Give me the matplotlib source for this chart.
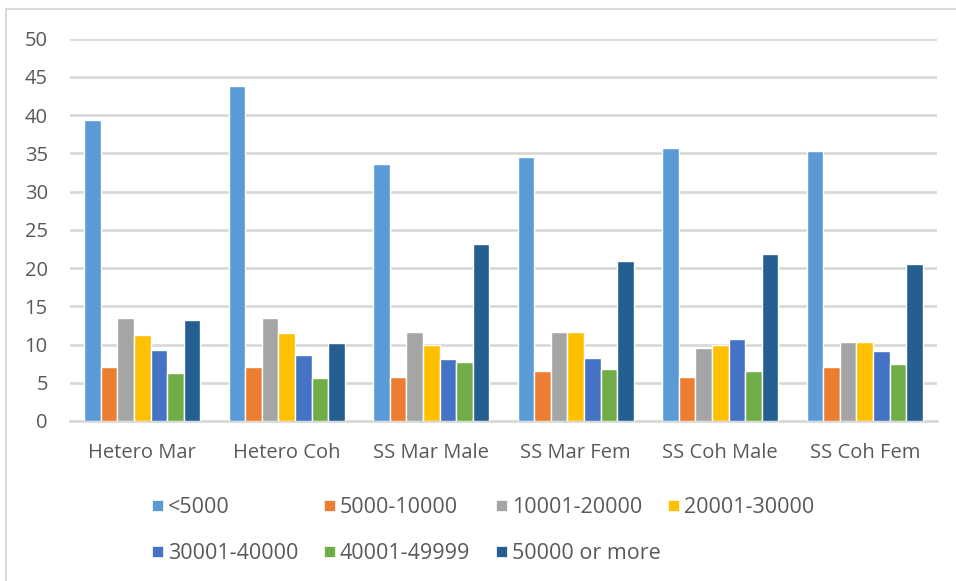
import numpy as np
import matplotlib
import matplotlib.pyplot as plt
from matplotlib.lines import Line2D
from matplotlib.patches import Rectangle

matplotlib.use("Agg")

plt.rcParams["font.family"] = ["Open Sans", "DejaVu Sans"]

groups = ["Hetero Mar", "Hetero Coh", "SS Mar Male", "SS Mar Fem", "SS Coh Male", "SS Coh Fem"]
income_bands = ["<5000", "5000-10000", "10001-20000", "20001-30000",
                "30001-40000", "40001-49999", "50000 or more"]

# one list per income band, values in group order
under_5000 = [39.4, 43.8, 33.6, 34.5, 35.7, 35.3]
from_5000 = [7.1, 7.0, 5.8, 6.5, 5.8, 7.0]
from_10001 = [13.5, 13.5, 11.6, 11.6, 9.5, 10.3]
from_20001 = [11.3, 11.5, 10.0, 11.6, 10.0, 10.3]
from_30001 = [9.3, 8.6, 8.15, 8.3, 10.7, 9.15]
from_40001 = [6.3, 5.6, 7.7, 6.8, 6.6, 7.5]
over_50000 = [13.2, 10.2, 23.2, 20.9, 21.9, 20.5]

series = [under_5000, from_5000, from_10001, from_20001, from_30001, from_40001, over_50000]
colors = ["#5B9BD5", "#ED7D31", "#A5A5A5", "#FFC000", "#4472C4", "#70AD47", "#255E91"]

W, H = 956, 581
fig = plt.figure(figsize=(W / 100, H / 100), dpi=100)
ax = fig.add_axes([70 / W, 1 - 421 / H, 867 / W, (421 - 38.7) / H])

x = np.arange(len(groups))
slot = 0.8 / len(series)
for i, (vals, col, lab) in enumerate(zip(series, colors, income_bands)):
    offs = (i - (len(series) - 1) / 2) * slot
    ax.bar(x + offs, vals, width=slot, color=col, label=lab,
           edgecolor="white", linewidth=1.0, zorder=3)

ax.set_xlim(-0.5, len(groups) - 0.5)
ax.set_ylim(0, 50)
ax.set_yticks(range(0, 51, 5))
ax.set_xticks(x)
ax.set_xticklabels(groups)
ax.yaxis.grid(True, color="#D9D9D9", linewidth=2, zorder=0)
ax.tick_params(axis="both", length=0, labelsize=14.5, labelcolor="#595959")
ax.tick_params(axis="y", pad=16)
ax.tick_params(axis="x", pad=16)
for s in ["top", "right", "left"]:
    ax.spines[s].set_visible(False)
ax.spines["bottom"].set_color("#D9D9D9")
ax.spines["bottom"].set_linewidth(2)

# legend laid out like Excel: 4 fixed-width columns, filled row by row
for i, (col, lab) in enumerate(zip(colors, income_bands)):
    px = 152 + 172 * (i % 4)
    py = 505 + 46 * (i // 4)
    fig.add_artist(Rectangle((px / W, 1 - (py + 5.5) / H), 11 / W, 11 / H,
                             transform=fig.transFigure, facecolor=col,
                             edgecolor="white", linewidth=0.5))
    fig.text((px + 16) / W, 1 - py / H, lab, fontsize=15.5, color="#595959",
             ha="left", va="center_baseline")

# chart frame (only top and left edges are visible in the crop)
fig.add_artist(Line2D([6 / W, 1], [1 - 9 / H, 1 - 9 / H],
                      transform=fig.transFigure, color="#D9D9D9", linewidth=1.5))
fig.add_artist(Line2D([6 / W, 6 / W], [0, 1 - 9 / H],
                      transform=fig.transFigure, color="#D9D9D9", linewidth=1.5))

fig.savefig("out.png", dpi=100)
plt.close(fig)
